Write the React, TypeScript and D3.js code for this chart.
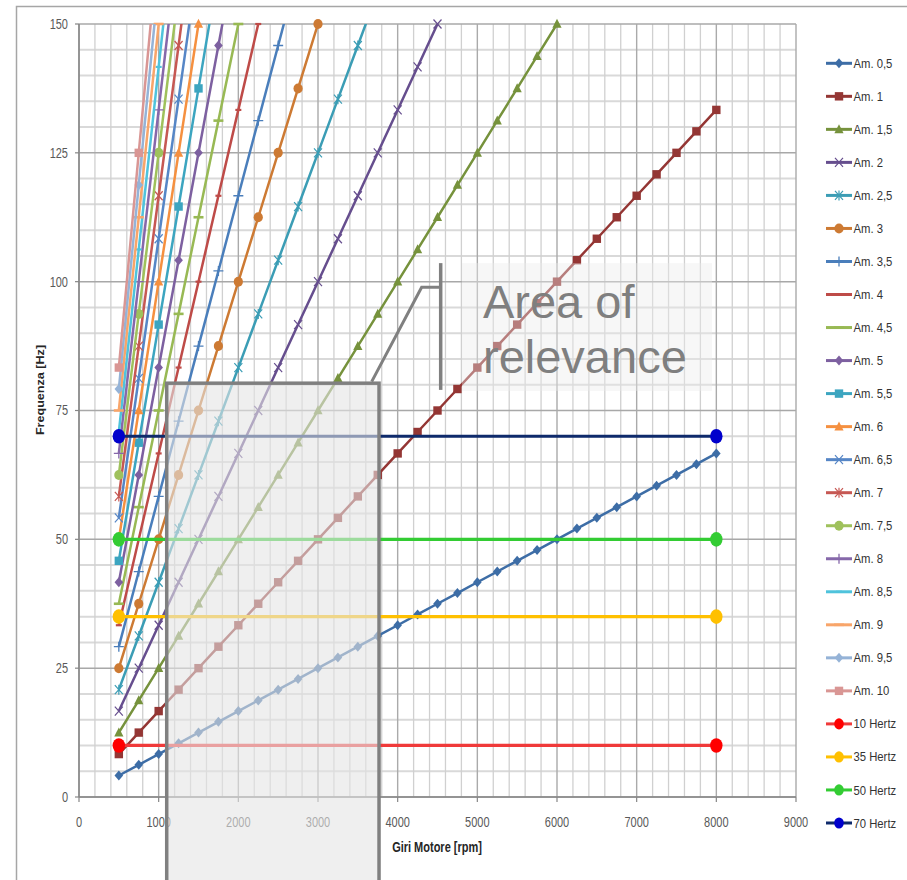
import React from 'react';
import * as d3 from 'd3';

// ---------- DATA ----------
const rpm = [500, 750, 1000, 1250, 1500, 1750, 2000, 2250, 2500, 2750, 3000, 3250, 3500, 3750, 4000, 4250, 4500, 4750, 5000, 5250, 5500, 5750, 6000, 6250, 6500, 6750, 7000, 7250, 7500, 7750, 8000];

const am05 = [4.17, 6.25, 8.33, 10.42, 12.5, 14.58, 16.67, 18.75, 20.83, 22.92, 25, 27.08, 29.17, 31.25, 33.33, 35.42, 37.5, 39.58, 41.67, 43.75, 45.83, 47.92, 50, 52.08, 54.17, 56.25, 58.33, 60.42, 62.5, 64.58, 66.67];
const am1 = [8.33, 12.5, 16.67, 20.83, 25, 29.17, 33.33, 37.5, 41.67, 45.83, 50, 54.17, 58.33, 62.5, 66.67, 70.83, 75, 79.17, 83.33, 87.5, 91.67, 95.83, 100, 104.17, 108.33, 112.5, 116.67, 120.83, 125, 129.17, 133.33];
const am15 = [12.5, 18.75, 25, 31.25, 37.5, 43.75, 50, 56.25, 62.5, 68.75, 75, 81.25, 87.5, 93.75, 100, 106.25, 112.5, 118.75, 125, 131.25, 137.5, 143.75, 150, 156.25];
const am2 = [16.67, 25, 33.33, 41.67, 50, 58.33, 66.67, 75, 83.33, 91.67, 100, 108.33, 116.67, 125, 133.33, 141.67, 150, 158.33];
const am25 = [20.83, 31.25, 41.67, 52.08, 62.5, 72.92, 83.33, 93.75, 104.17, 114.58, 125, 135.42, 145.83, 156.25];
const am3 = [25, 37.5, 50, 62.5, 75, 87.5, 100, 112.5, 125, 137.5, 150, 162.5];
const am35 = [29.17, 43.75, 58.33, 72.92, 87.5, 102.08, 116.67, 131.25, 145.83, 160.42];
const am4 = [33.33, 50, 66.67, 83.33, 100, 116.67, 133.33, 150, 166.67];
const am45 = [37.5, 56.25, 75, 93.75, 112.5, 131.25, 150, 168.75];
const am5 = [41.67, 62.5, 83.33, 104.17, 125, 145.83, 166.67];
const am55 = [45.83, 68.75, 91.67, 114.58, 137.5, 160.42];
const am6 = [50, 75, 100, 125, 150, 175];
const am65 = [54.17, 81.25, 108.33, 135.42, 162.5];
const am7 = [58.33, 87.5, 116.67, 145.83, 175];
const am75 = [62.5, 93.75, 125, 156.25];
const am8 = [66.67, 100, 133.33, 166.67];
const am85 = [70.83, 106.25, 141.67, 177.08];
const am9 = [75, 112.5, 150, 187.5];
const am95 = [79.17, 118.75, 158.33];
const am10 = [83.33, 125, 166.67];

const amNames = ['Am. 0,5', 'Am. 1', 'Am. 1,5', 'Am. 2', 'Am. 2,5', 'Am. 3', 'Am. 3,5', 'Am. 4', 'Am. 4,5', 'Am. 5', 'Am. 5,5', 'Am. 6', 'Am. 6,5', 'Am. 7', 'Am. 7,5', 'Am. 8', 'Am. 8,5', 'Am. 9', 'Am. 9,5', 'Am. 10'];
const amValues = [am05, am1, am15, am2, am25, am3, am35, am4, am45, am5, am55, am6, am65, am7, am75, am8, am85, am9, am95, am10];

const hertzNames = ['10 Hertz', '35 Hertz', '50 Hertz', '70 Hertz'];
const hertzRpm = [500, 8000];
const hertzValues = [[10, 10], [35, 35], [50, 50], [70, 70]];

const xTicks = [0, 1000, 2000, 3000, 4000, 5000, 6000, 7000, 8000, 9000];
const yTicks = [0, 25, 50, 75, 100, 125, 150];

// annotation (in data units)
const boxRpm = [1101, 3766];
const boxHz = [80.3, -25];
const connRpm = [3674, 4301, 4531];
const connHz = [80.6, 98.9, 98.9];
const bracketRpm = 4540;
const bracketHz = [103.6, 79.0];
const labelBoxRpm = [4807, 7945];
const labelBoxHz = [103.6, 78.8];
const labelRpm = 5071;
const labelHz = [92.95, 82.3];
const labelLines = ['Area of', 'relevance'];

// ---------- STYLES ----------
const amColors = ['#3D6DA6', '#943634', '#76923C', '#664E8E', '#3B9DB5', '#CD7A33', '#4A7EBB', '#BE4B48', '#98B954', '#7D60A0', '#3CA5C0', '#F59040', '#5686C6', '#C65853', '#9FC15C', '#8668AA', '#4FC3DC', '#F8A56A', '#95B3D7', '#D99694'];
const amMarkers = ['diamond', 'square', 'triangle', 'x', 'star', 'circle', 'plus', 'dash', 'longdash', 'diamond', 'square', 'triangle', 'x', 'star', 'circle', 'plus', 'dash', 'longdash', 'diamond', 'square'];
const hertzLineColors = ['#F03A3A', '#FFC000', '#33CC33', '#0E2A6B'];
const hertzMarkerColors = ['#FF0000', '#FFC000', '#33CC33', '#0000CC'];

const x = d3.scaleLinear().domain([0, 9000]).range([79, 796]);
const y = d3.scaleLinear().domain([0, 150]).range([797, 24]);

function Marker({ type, cx, cy, color }: { type: string; cx: number; cy: number; color: string }) {
  switch (type) {
    case 'diamond':
      return <path d={`M${cx},${cy - 5}L${cx + 4.3},${cy}L${cx},${cy + 5}L${cx - 4.3},${cy}Z`} fill={color} />;
    case 'square':
      return <rect x={cx - 4.2} y={cy - 4.2} width={8.4} height={8.4} fill={color} />;
    case 'triangle':
      return <path d={`M${cx},${cy - 5.2}L${cx + 4.6},${cy + 3.8}L${cx - 4.6},${cy + 3.8}Z`} fill={color} />;
    case 'x':
      return <path d={`M${cx - 4},${cy - 4.5}L${cx + 4},${cy + 4.5}M${cx + 4},${cy - 4.5}L${cx - 4},${cy + 4.5}`} stroke={color} strokeWidth={1.2} fill="none" />;
    case 'star':
      return <path d={`M${cx - 4},${cy - 4.5}L${cx + 4},${cy + 4.5}M${cx + 4},${cy - 4.5}L${cx - 4},${cy + 4.5}M${cx},${cy - 5}L${cx},${cy + 5}`} stroke={color} strokeWidth={1.2} fill="none" />;
    case 'circle':
      return <ellipse cx={cx} cy={cy} rx={4.6} ry={5} fill={color} />;
    case 'plus':
      return <path d={`M${cx - 5},${cy}L${cx + 5},${cy}M${cx},${cy - 5}L${cx},${cy + 5}`} stroke={color} strokeWidth={1.3} fill="none" />;
    case 'dash':
      return <path d={`M${cx - 3},${cy}L${cx + 3},${cy}`} stroke={color} strokeWidth={2.2} fill="none" />;
    case 'longdash':
      return <path d={`M${cx - 5},${cy}L${cx + 5},${cy}`} stroke={color} strokeWidth={2.6} fill="none" />;
    default:
      return null;
  }
}

const line = d3.line<[number, number]>().x((d) => x(d[0])).y((d) => y(d[1]));

export default function App() {
  const minorX = d3.range(200, 9001, 200).filter((v) => v % 1000 !== 0);
  const minorY = d3.range(5, 151, 5).filter((v) => v % 25 !== 0);
  const legendEntries = [
    ...amNames.map((n, i) => ({ name: n, color: amColors[i], mcolor: amColors[i], marker: amMarkers[i], hz: false })),
    ...hertzNames.map((n, i) => ({ name: n, color: hertzLineColors[i], mcolor: hertzMarkerColors[i], marker: 'circle', hz: true })),
  ];
  const font = "'Liberation Sans', Arial, sans-serif";
  return (
    <svg width={907} height={880} style={{ position: 'absolute', left: 0, top: 0, background: '#fff' }} fontFamily={font}>
      <defs>
        <clipPath id="plotclip">
          <rect x={x(0)} y={y(150)} width={x(9000) - x(0)} height={y(0) - y(150)} />
        </clipPath>
      </defs>
      <rect x={0} y={0} width={907} height={880} fill="#fff" />
      <rect x={16.5} y={6.5} width={1000} height={1000} fill="none" stroke="#A6A6A6" strokeWidth={1.5} />

      {/* grid */}
      <g>
        {minorY.map((v) => (
          <line key={'my' + v} x1={x(0)} x2={x(9000)} y1={y(v)} y2={y(v)} stroke="#D9D9D9" strokeWidth={2} />
        ))}
        {minorX.map((v) => (
          <line key={'mx' + v} x1={x(v)} x2={x(v)} y1={y(0)} y2={y(150)} stroke="#D0D0D0" strokeWidth={1.3} />
        ))}
        {yTicks.map((v) => (
          <line key={'gy' + v} x1={x(0)} x2={x(9000)} y1={y(v)} y2={y(v)} stroke="#A8A8A8" strokeWidth={1.5} />
        ))}
        {xTicks.map((v) => (
          <line key={'gx' + v} x1={x(v)} x2={x(v)} y1={y(0)} y2={y(150)} stroke="#AAAAAA" strokeWidth={1.4} />
        ))}
      </g>

      {/* axes */}
      <line x1={x(0)} x2={x(0)} y1={y(0)} y2={y(150)} stroke="#868686" strokeWidth={1.5} />
      <line x1={x(0)} x2={x(9000)} y1={y(0)} y2={y(0)} stroke="#868686" strokeWidth={1.5} />
      {yTicks.map((v) => (
        <g key={'yt' + v}>
          <line x1={x(0) - 4} x2={x(0)} y1={y(v)} y2={y(v)} stroke="#868686" strokeWidth={1.2} />
          <text transform={`translate(68,${y(v)}) scale(1,1.28)`} dy="0.35em" textAnchor="end" fontSize={11} fill="#595959">{v}</text>
        </g>
      ))}
      {xTicks.map((v) => (
        <g key={'xt' + v}>
          <line x1={x(v)} x2={x(v)} y1={y(0)} y2={y(0) + 5} stroke="#868686" strokeWidth={1.2} />
          <text transform={`translate(${x(v)},827) scale(1,1.28)`} textAnchor="middle" fontSize={11} fill="#595959">{v}</text>
        </g>
      ))}
      <text transform="translate(437,852) scale(1,1.25)" textAnchor="middle" fontSize={11} fontWeight="bold" fill="#262626">Giri Motore [rpm]</text>
      <text transform="translate(44,390) scale(1,1.2) rotate(-90)" textAnchor="middle" fontSize={10.5} fontWeight="bold" fill="#262626">Frequenza [Hz]</text>

      {/* Am series */}
      {amValues.map((vals, i) => {
        const pts: [number, number][] = vals.map((v, j) => [rpm[j], v]);
        return (
          <g key={'am' + i}>
            <path d={line(pts) || ''} fill="none" stroke={amColors[i]} strokeWidth={2.5} clipPath="url(#plotclip)" />
            {pts.filter((p) => p[1] <= 150).map((p, j) => (
              <Marker key={j} type={amMarkers[i]} cx={x(p[0])} cy={y(p[1])} color={amColors[i]} />
            ))}
          </g>
        );
      })}

      {/* Hertz series */}
      {hertzValues.map((vals, i) => {
        const pts: [number, number][] = vals.map((v, j) => [hertzRpm[j], v]);
        return (
          <g key={'hz' + i}>
            <path d={line(pts) || ''} fill="none" stroke={hertzLineColors[i]} strokeWidth={3.2} />
            {pts.map((p, j) => (
              <ellipse key={j} cx={x(p[0])} cy={y(p[1])} rx={6.2} ry={7.3} fill={hertzMarkerColors[i]} />
            ))}
          </g>
        );
      })}

      {/* annotation */}
      <rect x={x(boxRpm[0])} y={y(boxHz[0])} width={x(boxRpm[1]) - x(boxRpm[0])} height={y(boxHz[1]) - y(boxHz[0])} fill="#E4E4E4" fillOpacity={0.6} stroke="#808080" strokeWidth={3.5} />
      <path d={d3.line()(connRpm.map((r, i) => [x(r), y(connHz[i])]) as [number, number][]) || ''} fill="none" stroke="#808080" strokeWidth={3} />
      <line x1={x(bracketRpm)} x2={x(bracketRpm)} y1={y(bracketHz[0])} y2={y(bracketHz[1])} stroke="#808080" strokeWidth={3.5} />
      <rect x={x(labelBoxRpm[0])} y={y(labelBoxHz[0])} width={x(labelBoxRpm[1]) - x(labelBoxRpm[0])} height={y(labelBoxHz[1]) - y(labelBoxHz[0])} fill="#EBEBEB" fillOpacity={0.4} />
      {labelLines.map((t, i) => (
        <text key={t} x={x(labelRpm)} y={y(labelHz[i])} fontSize={47} fill="#7F7F7F">{t}</text>
      ))}

      {/* legend */}
      {legendEntries.map((e, i) => {
        const cy = 63.3 + i * 33.03;
        return (
          <g key={'lg' + i}>
            <line x1={826} x2={852} y1={cy} y2={cy} stroke={e.color} strokeWidth={3} />
            {e.hz ? (
              <ellipse cx={839} cy={cy} rx={4.8} ry={5.6} fill={e.mcolor} />
            ) : (
              <Marker type={e.marker} cx={839} cy={cy} color={e.mcolor} />
            )}
            <text transform={`translate(853.5,${cy}) scale(1,1.12)`} dy="0.36em" fontSize={11.3} fill="#333">{e.name}</text>
          </g>
        );
      })}
    </svg>
  );
}
